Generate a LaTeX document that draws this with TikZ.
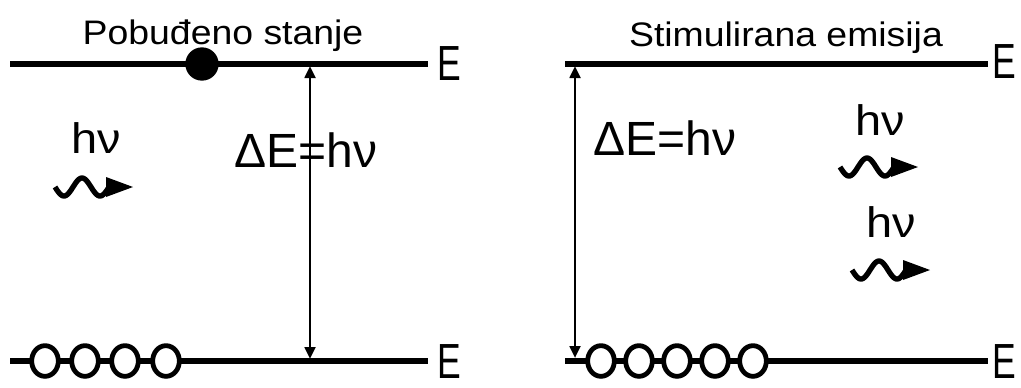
\documentclass[tikz,border=0pt]{standalone}
\usepackage{fontspec}
\setmainfont{Liberation Sans}
\newfontfamily\titlefont[FakeStretch=1.1]{Liberation Sans}
\newfontfamily\levelfont[FakeStretch=0.72]{Liberation Sans}
\newfontfamily\photonfont[FakeStretch=1.1]{Liberation Sans}
\usetikzlibrary{arrows.meta,shapes.geometric}

\tikzset{
  photon/.pic={
    \draw[line width=4pt] plot[domain=0:54,samples=50,smooth] (\x,{9*sin(\x/54*540)});
    \fill (51,-10) -- (78,0) -- (51,10) -- cycle;
  }
}

\begin{document}
\begin{tikzpicture}[x=0.75pt,y=-0.75pt,
    level/.style={line width=3.8pt},
    jump/.style={line width=2pt,{Triangle[length=9pt,width=8pt]}-{Triangle[length=9pt,width=8pt]}},
    emptystate/.style={draw,ellipse,line width=3.6pt,fill=white,minimum width=20pt,minimum height=23pt,inner sep=0pt},
    fullstate/.style={circle,fill=black,minimum size=25pt,inner sep=0pt},
    ttl/.style={font=\fontsize{25.5}{30}\titlefont,anchor=base,inner sep=0pt},
    elabel/.style={font=\fontsize{37}{40}\levelfont,anchor=base west,inner sep=0pt},
    energy/.style={font=\fontsize{36}{40}\selectfont,anchor=base,inner sep=0pt},
    hnu/.style={font=\fontsize{32}{36}\photonfont,anchor=base,inner sep=0pt}]
  \useasboundingbox (0,0) rectangle (1021,387);

  % Pobudjeno stanje - left panel
  \node[ttl] (ltitle) at (223,44) {Pobuđeno stanje};
  \coordinate (lup-w) at (10,64);
  \coordinate (lup-e) at (428,64);
  \coordinate (llo-w) at (10,361);
  \coordinate (llo-e) at (428,361);
  \draw[level] (lup-w) -- (lup-e);
  \draw[level] (llo-w) -- (llo-e);
  \node[elabel] (lE2) at (437,80) {E};
  \node[elabel] (lE1) at (437,378) {E};
  % excited electron up, empty states below
  \node[fullstate] (lfull) at (202,64) {};
  \foreach \i/\xx in {1/45,2/85,3/125,4/166}
    \node[emptystate] (lg\i) at (\xx,361) {};
  % transition
  \coordinate (ljt) at (310,66);
  \coordinate (ljb) at (310,359);
  \draw[jump] (ljt) -- (ljb);
  \node[energy] (lde) at (306,167) {ΔE=hν};
  % incoming photon
  \node[hnu] (lhv) at (96,153) {hν};
  \pic at (55,187) {photon};

  % Stimulirana emisija - right panel
  \node[ttl] (rtitle) at (786,46) {Stimulirana emisija};
  \coordinate (rup-w) at (565,64);
  \coordinate (rup-e) at (988,64);
  \coordinate (rlo-w) at (565,361);
  \coordinate (rlo-e) at (988,361);
  \draw[level] (rup-w) -- (rup-e);
  \draw[level] (rlo-w) -- (rlo-e);
  \node[elabel] (rE2) at (992,78) {E};
  \node[elabel] (rE1) at (992,378) {E};
  \foreach \i/\xx in {1/601,2/639,3/677,4/715,5/753}
    \node[emptystate] (rg\i) at (\xx,361) {};
  % transition
  \coordinate (rjt) at (575,66);
  \coordinate (rjb) at (575,358);
  \draw[jump] (rjt) -- (rjb);
  \node[energy] (rde) at (665,155) {ΔE=hν};
  % two outgoing photons
  \node[hnu] (rhv1) at (880,135) {hν};
  \pic at (840,167) {photon};
  \node[hnu] (rhv2) at (891,237) {hν};
  \pic at (852,270) {photon};
\end{tikzpicture}
\end{document}
